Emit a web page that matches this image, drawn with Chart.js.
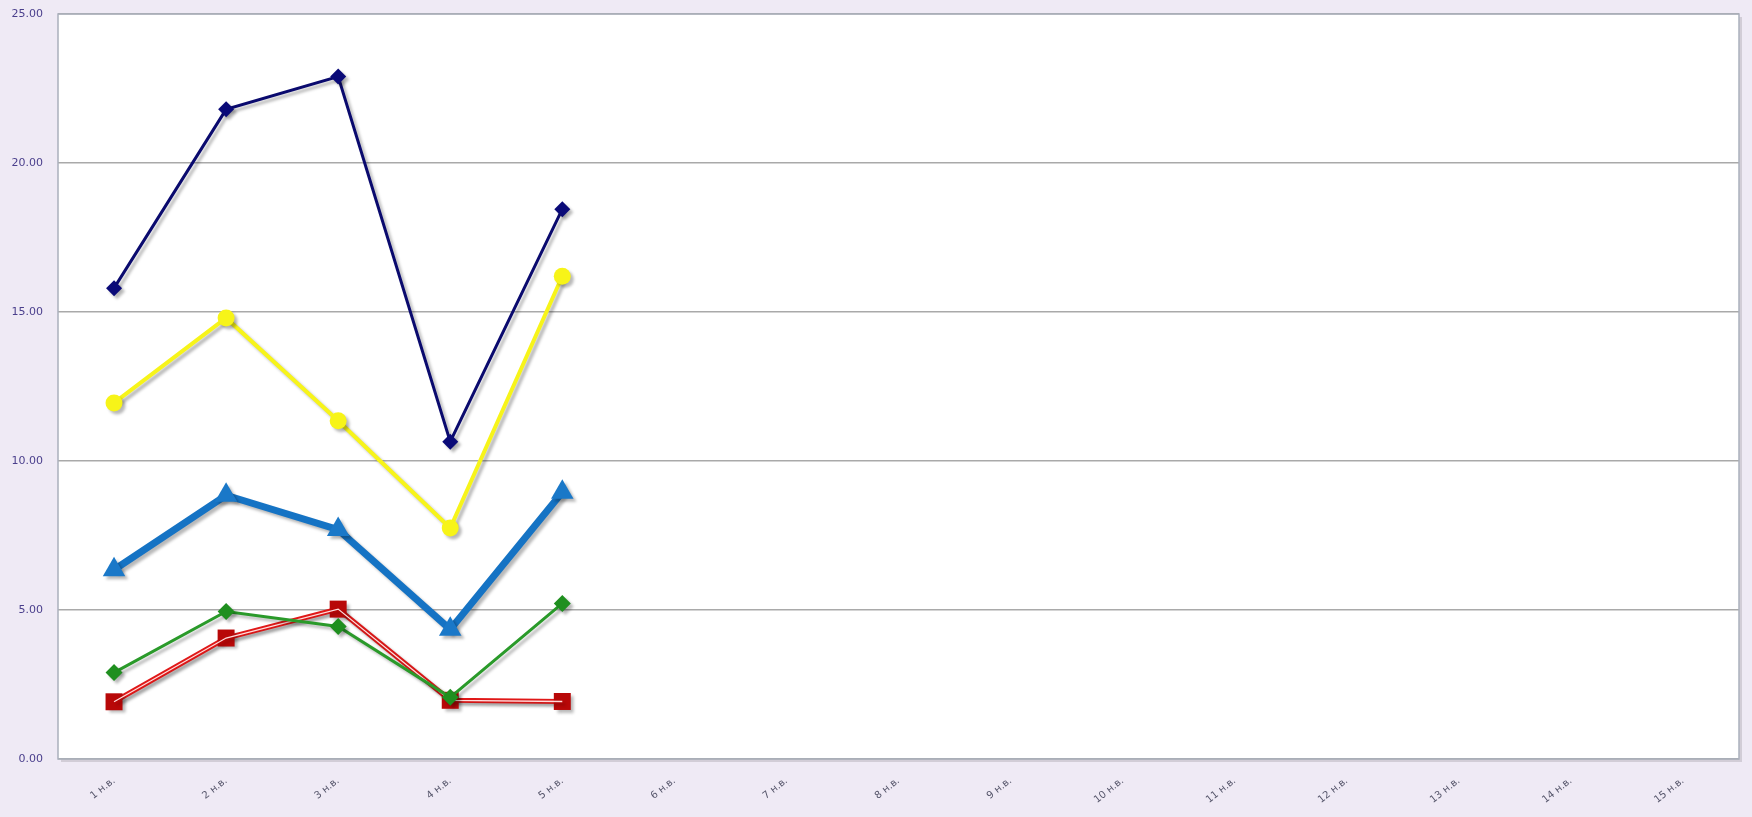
<!DOCTYPE html>
<html>
<head>
<meta charset="utf-8">
<script src="https://cdn.jsdelivr.net/npm/chart.js@4"></script>
<style>
  html, body { margin: 0; padding: 0; background: #efeaf5; }
  #wrap { width: 1752px; height: 817px; }
</style>
</head>
<body>
<div id="wrap"><canvas id="line-chart"></canvas></div>
<script>
// week labels
let weeks = ["1 н.в.", "2 н.в.", "3 н.в.", "4 н.в.", "5 н.в.", "6 н.в.", "7 н.в.", "8 н.в.",
  "9 н.в.", "10 н.в.", "11 н.в.", "12 н.в.", "13 н.в.", "14 н.в.", "15 н.в."];

let navySeries = [15.8, 21.8, 22.9, 10.65, 18.45];
let yellowSeries = [11.95, 14.8, 11.35, 7.75, 16.2];
let blueSeries = [6.35, 8.85, 7.7, 4.35, 8.95];
let greenSeries = [2.9, 4.95, 4.45, 2.07, 5.22];
let redSeries = [1.92, 4.06, 5.03, 1.97, 1.93];

let yTicks = [0, 5, 10, 15, 20, 25];

// white plot area + border
const plotBg = {
  id: "plotBg",
  beforeDraw: (chart) => {
    let { ctx, chartArea: a } = chart;
    ctx.save();
    ctx.fillStyle = "rgba(0,0,0,0.12)";
    ctx.fillRect(a.left + 3, a.top + 3, a.right - a.left, a.bottom - a.top);
    ctx.fillStyle = "#ffffff";
    ctx.fillRect(a.left, a.top, a.right - a.left, a.bottom - a.top);
    ctx.restore();
  },
  afterDraw: (chart) => {
    let { ctx, chartArea: a } = chart;
    ctx.save();
    ctx.strokeStyle = "#aab0bc";
    ctx.lineWidth = 1.5;
    ctx.strokeRect(a.left, a.top, a.right - a.left, a.bottom - a.top);
    ctx.restore();
  },
};

// soft drop shadow on the series
const shadow = {
  id: "shadow",
  beforeDatasetsDraw: (chart) => {
    let ctx = chart.ctx;
    ctx.save();
    ctx.shadowColor = "rgba(0,0,0,0.28)";
    ctx.shadowOffsetX = 3;
    ctx.shadowOffsetY = 3;
    ctx.shadowBlur = 3;
  },
  afterDatasetsDraw: (chart) => {
    chart.ctx.restore();
  },
};

const config = {
  type: "line",
  data: {
    labels: weeks,
    datasets: [
      {
        label: "navy",
        data: navySeries,
        borderColor: "#0a0a6e",
        backgroundColor: "#0a0a78",
        borderWidth: 3,
        pointStyle: "rectRot",
        pointRadius: 8,
        pointBorderWidth: 0,
        tension: 0,
        order: 5,
      },
      {
        label: "yellow",
        data: yellowSeries,
        borderColor: "#f7f41a",
        backgroundColor: "#f7f418",
        borderWidth: 4,
        pointStyle: "circle",
        pointRadius: 8.5,
        pointBorderWidth: 0,
        tension: 0,
        order: 4,
      },
      {
        label: "blue",
        data: blueSeries,
        borderColor: "#1573c4",
        backgroundColor: "#1a78c8",
        borderWidth: 7,
        pointStyle: "triangle",
        pointRadius: 13,
        pointBorderWidth: 0,
        tension: 0,
        order: 3,
      },
      {
        label: "green",
        data: greenSeries,
        borderColor: "#2a9a2a",
        backgroundColor: "#1f8f1f",
        borderWidth: 3,
        pointStyle: "rectRot",
        pointRadius: 8.5,
        pointBorderWidth: 0,
        tension: 0,
        order: 1,
      },
      {
        label: "red",
        data: redSeries,
        borderColor: "#e01818",
        backgroundColor: "#b80808",
        borderWidth: 5,
        pointStyle: "rect",
        pointRadius: 12,
        pointBorderWidth: 0,
        tension: 0,
        order: 2,
      },
      {
        // light inner stroke gives the red double line
        label: "red-inner",
        data: redSeries,
        borderColor: "#ffdcdc",
        borderWidth: 1.3,
        pointRadius: 0,
        tension: 0,
        order: 1.5,
      },
    ],
  },
  options: {
    responsive: true,
    maintainAspectRatio: false,
    animation: false,
    layout: { padding: { top: 14, right: 9, left: 0, bottom: 0 } },
    plugins: {
      legend: { display: false },
      tooltip: { enabled: false },
    },
    scales: {
      x: {
        offset: true,
        grid: { display: false },
        border: { display: false },
        ticks: {
          color: "#55556a",
          font: { family: "DejaVu Sans", size: 10 },
          minRotation: 38,
          maxRotation: 38,
          padding: 8,
        },
        afterFit: (scale) => { scale.height = 58; },
      },
      y: {
        min: 0,
        max: 25,
        afterBuildTicks: (scale) => { scale.ticks = yTicks.map((v) => ({ value: v })); },
        grid: { color: "#a9a9a9", lineWidth: 1.5, drawTicks: false },
        border: { display: false },
        ticks: {
          color: "#4a3f8c",
          font: { family: "DejaVu Sans", size: 11 },
          padding: 15,
          callback: (v) => Number(v).toFixed(2),
        },
        afterFit: (scale) => {
          scale.width = 58;
          scale.paddingTop = 0;
          scale.paddingBottom = 0;
        },
      },
    },
  },
  plugins: [plotBg, shadow],
};

let chartCon = document.querySelector("#line-chart");
let chart = new Chart(chartCon, config);
</script>
</body>
</html>
